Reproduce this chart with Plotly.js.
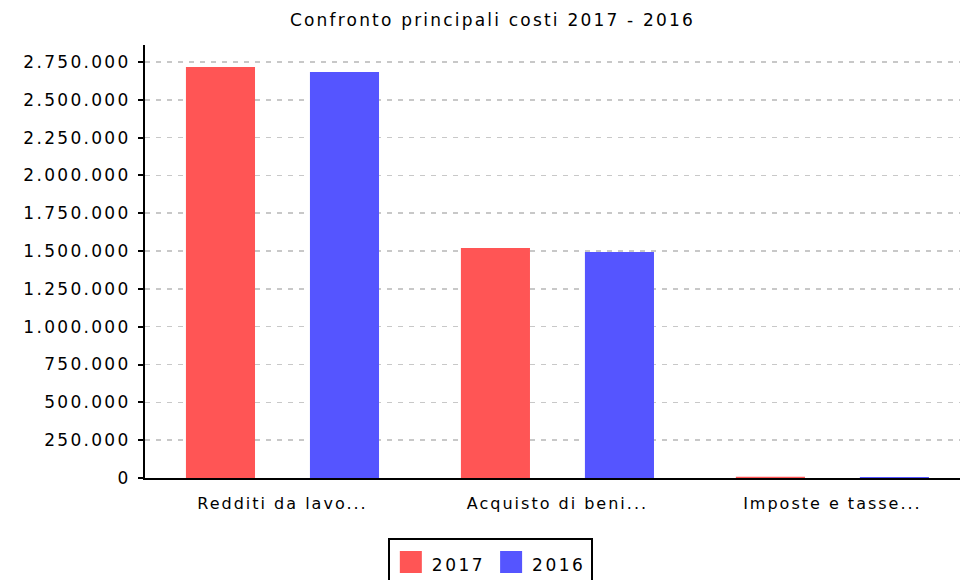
<!DOCTYPE html>
<html>
<head>
<meta charset="utf-8">
<script src="https://cdn.plot.ly/plotly-3.0.1.min.js"></script>
<style>
html,body{margin:0;padding:0;background:#fff;}
#chart{width:960px;height:580px;}
.ytick text{letter-spacing:2.3px;}
.xtick text{letter-spacing:2px;}
.gtitle{letter-spacing:2.2px;}
.legendtext{letter-spacing:2.5px;font-size:17px !important;}
</style>
</head>
<body>
<div id="chart"></div>
<script>
var categories = ["Redditi da lavo...", "Acquisto di beni...", "Imposte e tasse..."];
var values2017 = [2717000, 1520000, 8000];
var values2016 = [2684000, 1494000, 7000];
var seriesNames = ["2017", "2016"];
var tickValues = [0, 250000, 500000, 750000, 1000000, 1250000, 1500000, 1750000, 2000000, 2250000, 2500000, 2750000];

var font = "DejaVu Sans, Verdana, sans-serif";
var data = [
  {type: "bar", name: seriesNames[0], x: categories, y: values2017, marker: {color: "#FF5555"}, hoverinfo: "y"},
  {type: "bar", name: seriesNames[1], x: categories, y: values2016, marker: {color: "#5555FF"}, hoverinfo: "y"}
];
var layout = {
  width: 960, height: 580,
  paper_bgcolor: "#fff", plot_bgcolor: "#fff",
  separators: ",.",
  font: {family: font, size: 16, color: "#000"},
  margin: {l: 145, r: 0, t: 45, b: 102, pad: 0},
  title: {text: "Confronto principali costi 2017 - 2016", font: {family: font, size: 17, color: "#000"}, x: 0.513, xanchor: "center", y: 0.965, yanchor: "middle"},
  barmode: "group",
  bargap: 0.098,
  bargroupgap: 0.443,
  showlegend: true,
  legend: {orientation: "h", xref: "container", yref: "container", x: 0.404, xanchor: "left", y: 0.0724, yanchor: "top", bordercolor: "#000", borderwidth: 2, font: {family: font, size: 24}, itemwidth: 32, traceorder: "normal"},
  xaxis: {type: "category", range: [-0.5, 2.464], showline: true, linecolor: "#000", linewidth: 2, ticks: "", showgrid: false, tickfont: {family: font, size: 16}, ticklabelstandoff: 10, fixedrange: true},
  yaxis: {range: [0, 2862000], tickvals: tickValues, tickformat: ",d", showline: true, linecolor: "#000", linewidth: 2, ticks: "outside", ticklen: 5, tickwidth: 2, tickcolor: "#000", showgrid: true, gridcolor: "#c8c8c8", griddash: "5px,6px", gridwidth: 1.5, zeroline: false, tickfont: {family: font, size: 17}, ticklabelstandoff: 4, fixedrange: true}
};
Plotly.newPlot("chart", data, layout, {displayModeBar: false, staticPlot: true}).then(function (gd) {
  gd.querySelectorAll(".legendpoints path").forEach(function (p) {
    p.setAttribute("d", "M11,11H-11V-11H11Z");
  });
});
</script>
</body>
</html>
